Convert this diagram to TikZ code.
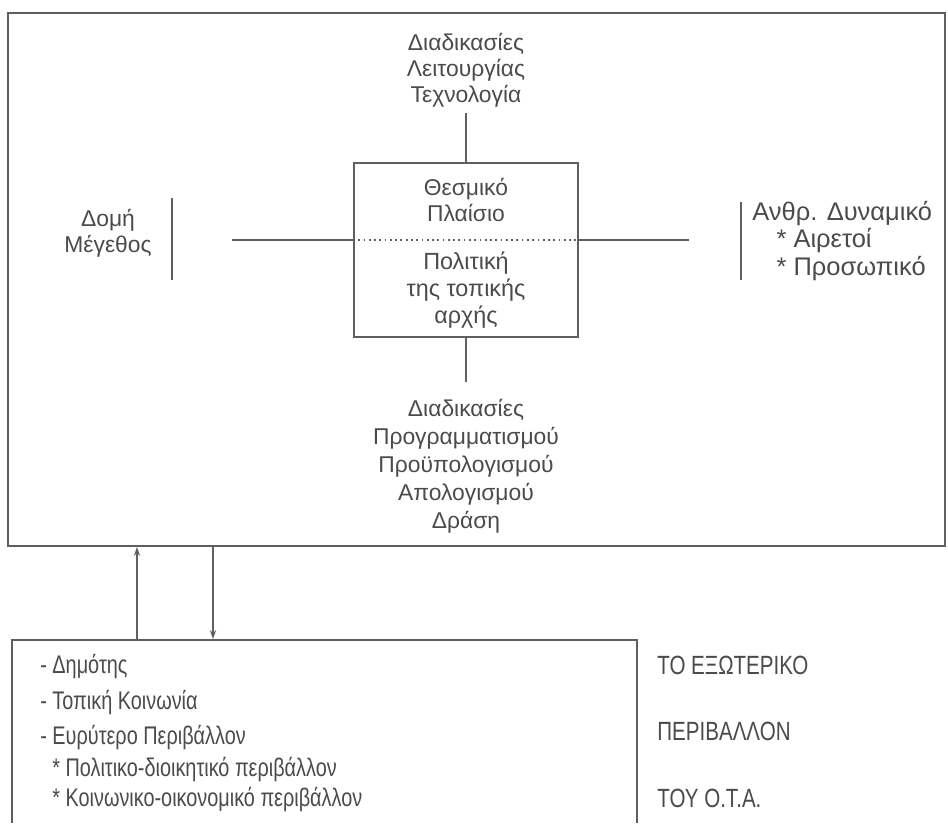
\documentclass[tikz,border=0pt]{standalone}
\usepackage{fontspec}
\setmainfont{Liberation Sans}
\newfontfamily\condfont[FakeStretch=0.78]{Liberation Sans}
\usetikzlibrary{arrows.meta,calc}
\definecolor{ink}{RGB}{75,75,75}
\definecolor{rule}{RGB}{95,95,95}
\tikzset{
  frame/.style={draw=rule,line width=1.6pt},
  link/.style={draw=rule,line width=0.8pt},
  label/.style={text=ink,inner sep=0pt,align=center,font=\fontsize{13}{14.8}\selectfont},
  outer/.style={text=ink,inner sep=0pt,anchor=base west,font=\condfont\fontsize{14.5}{16}\selectfont},
  tip/.style={-{Stealth[length=5pt,width=3.5pt]}}
}
\begin{document}
\begin{tikzpicture}[x=0.02cm,y=-0.02cm]
\useasboundingbox (0,0) rectangle (948,823);
\fill[white] (0,0) rectangle (948,823);

% outer organisation frame
\draw[frame] (8,13) rectangle (945,546);

% central box
\node[draw=rule,line width=1.1pt,minimum width=224*0.02cm,minimum height=174*0.02cm,inner sep=0pt] (core) at (466,250) {};
\coordinate (dotL) at ($(core.west)+(0,-10)$);
\coordinate (dotR) at ($(core.east)+(0,-10)$);
\draw[rule,line width=1pt,dotted] (dotL) -- (dotR);

\node[label] (inst) at (466,200) {Θεσμικό\\Πλαίσιο};
\node[label,font=\fontsize{13.3}{15.3}\selectfont] (policy) at (466,290) {Πολιτική\\της τοπικής\\αρχής};

% four surrounding groups
\node[label] (top) at (466,70) {Διαδικασίες\\Λειτουργίας\\Τεχνολογία};
\node[label,font=\fontsize{13}{16}\selectfont] (bottom) at (466,466) {Διαδικασίες\\Προγραμματισμού\\Προϋπολογισμού\\Απολογισμού\\Δράση};
\node[label] (left) at (108,233) {Δομή\\Μέγεθος};
\node[label,align=left,anchor=north west,font=\fontsize{14.5}{15.6}\selectfont] (right) at (752,201) {Ανθρ. Δυναμικό\\\hspace*{0.95em}* Αιρετοί\\\hspace*{0.95em}* Προσωπικό};

\coordinate (topEnd) at (466,113);
\coordinate (botEnd) at (466,382);
\coordinate (leftEnd) at (232,240);
\coordinate (rightEnd) at (689,240);
\draw[link] (core.north) -- (topEnd);
\draw[link] (core.south) -- (botEnd);
\draw[link] (dotL) -- (leftEnd);
\draw[link] (dotR) -- (rightEnd);

% bars beside the side groups
\coordinate (lbarA) at (172,198);
\coordinate (lbarB) at (172,280);
\coordinate (rbarA) at (741,202);
\coordinate (rbarB) at (741,280);
\draw[link] (lbarA) -- (lbarB);
\draw[link] (rbarA) -- (rbarB);

% environment box, open at the lower edge
\coordinate (envSW) at (12,823);
\coordinate (envNW) at (12,640);
\coordinate (envNE) at (637,640);
\coordinate (envSE) at (637,823);
\draw[frame] (envSW) -- (envNW) -- (envNE) -- (envSE);

% exchanges between the two boxes
\coordinate (upFrom) at (137,640);
\coordinate (upTo) at (137,547);
\coordinate (downFrom) at (213,547);
\coordinate (downTo) at (213,639);
\draw[link,tip] (upFrom) -- (upTo);
\draw[link,tip] (downFrom) -- (downTo);

% environment contents
\node[outer] (e1) at (40,673) {- Δημότης};
\node[outer] (e2) at (40,709) {- Τοπική Κοινωνία};
\node[outer] (e3) at (40,744) {- Ευρύτερο Περιβάλλον};
\node[outer] (e4) at (52,776) {* Πολιτικο-διοικητικό περιβάλλον};
\node[outer] (e5) at (52,806) {* Κοινωνικο-οικονομικό περιβάλλον};

\node[outer,font=\condfont\fontsize{15}{16}\selectfont] (t1) at (657,674) {ΤΟ ΕΞΩΤΕΡΙΚΟ};
\node[outer,font=\condfont\fontsize{15}{16}\selectfont] (t2) at (657,740) {ΠΕΡΙΒΑΛΛΟΝ};
\node[outer,font=\condfont\fontsize{15}{16}\selectfont] (t3) at (657,807) {ΤΟΥ Ο.Τ.Α.};
\end{tikzpicture}
\end{document}
